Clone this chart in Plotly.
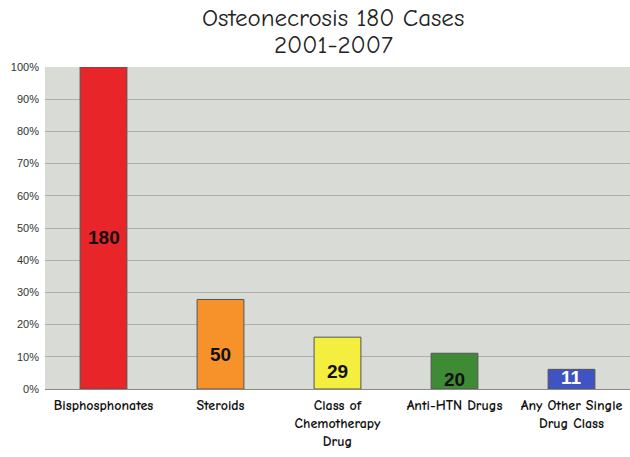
import plotly.graph_objects as go

categories = ["Bisphosphonates", "Steroids", "Class of<br>Chemotherapy<br>Drug", "Anti-HTN Drugs", "Any Other Single<br>Drug Class"]
case_counts = [180, 50, 29, 20, 11]
percent_values = [100, 27.8, 16.1, 11.1, 6.1]
bar_colors = ["#e8262a", "#f7922a", "#f4ef3e", "#3f8a35", "#4053c2"]
label_colors = ["#111111", "#111111", "#111111", "#111111", "#ffffff"]
y_ticks = [0, 10, 20, 30, 40, 50, 60, 70, 80, 90, 100]
y_tick_labels = [f"{v}%" for v in y_ticks]
title_lines = ["Osteonecrosis 180 Cases", "2001-2007"]

FONT = "Comic Sans MS, Comic Neue, Lato, sans-serif"
LABEL_SHIFT = [-9, -10, -8, -8, 2]  # pixel offsets of the count labels below bar middle

fig = go.Figure(go.Bar(
    x=categories,
    y=percent_values,
    marker=dict(color=bar_colors, line=dict(color="#555555", width=1)),
    width=0.4,
    hoverinfo="skip",
))

annotations = [
    dict(text=title_lines[0], x=0.5, y=17, xref="paper", yref="paper", yanchor="middle",
         xanchor="center", showarrow=False, font=dict(family=FONT, size=25, color="#222222")),
    dict(text=title_lines[1], x=0.5, y=45, xref="paper", yref="paper", yanchor="middle",
         xanchor="center", showarrow=False, font=dict(family=FONT, size=25, color="#222222")),
]
# convert title pixel rows to paper coordinates
plot_top, plot_h = 67, 322
for a in annotations:
    a["y"] = 1 + (plot_top - a["y"]) / plot_h
    a["x"] = (333 - 45) / 585

for cat, val, cnt, col, sh in zip(categories, percent_values, case_counts, label_colors, LABEL_SHIFT):
    annotations.append(dict(
        x=cat, y=val / 2, xref="x", yref="y", text=str(cnt), showarrow=False,
        yshift=sh, font=dict(family="Arial, Liberation Sans, sans-serif", size=19, color=col, weight="bold"),
    ))

fig.update_layout(
    width=630, height=457,
    margin=dict(l=45, r=0, t=67, b=68),
    paper_bgcolor="white",
    plot_bgcolor="#d9dbd6",
    showlegend=False,
    annotations=annotations,
)
fig.update_yaxes(
    range=[0, 100], tickvals=y_ticks, ticktext=y_tick_labels,
    showgrid=True, gridcolor="#aeafab", gridwidth=1,
    zeroline=False, showline=False,
    tickfont=dict(family="Arial, Liberation Sans, sans-serif", size=11, color="#333333"),
    ticks="", ticklen=0, ticklabelstandoff=5,
)
fig.update_xaxes(
    showgrid=False, showline=True, linecolor="#888888",
    tickfont=dict(family=FONT, size=14, color="#111111", weight="bold"),
    ticks="", ticklabelstandoff=3,
)
# remove the browser's default 8px body margin so the figure fills the window exactly
fig.write_html("out.html", config={"displayModeBar": False},
               post_script="document.body.style.margin='0';")
